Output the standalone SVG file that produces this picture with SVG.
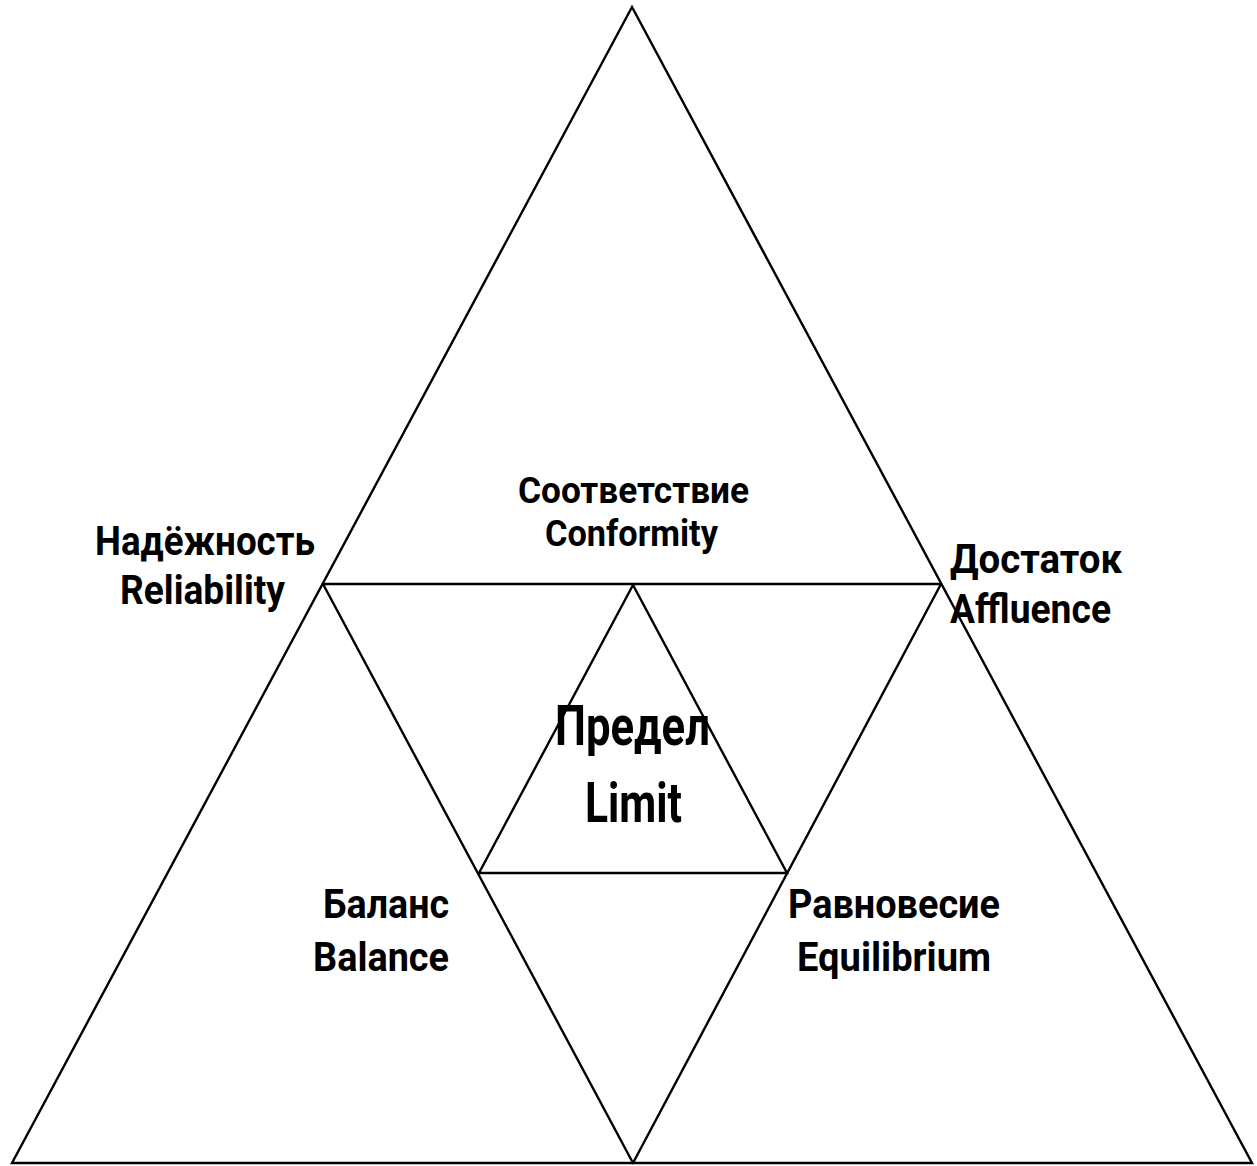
<svg xmlns="http://www.w3.org/2000/svg" width="1257" height="1166" viewBox="0 0 1257 1166">
<style>
.ln{stroke:#000;stroke-width:2.4;fill:none;stroke-linecap:round;stroke-linejoin:miter}
.t{font-family:Roboto,"Liberation Sans",sans-serif;font-weight:bold;font-size:40px;fill:#000;text-anchor:start}
.sm{font-size:36px}
.big{font-size:56px}
</style>
<rect width="1257" height="1166" fill="#fff"/>
<g id="connectors">
<polygon class="ln" points="632,7 12,1163 1252,1163"/>
<line class="ln" x1="323" y1="584" x2="941" y2="584"/>
<line class="ln" x1="323" y1="584" x2="633" y2="1163"/>
<line class="ln" x1="941" y1="584" x2="633" y2="1163"/>
<polygon class="ln" points="633,585 479,873 787,873"/>
</g>
<g id="node-reliability">
<text class="t" x="95" y="555" textLength="220" lengthAdjust="spacingAndGlyphs">Надёжность</text>
<text class="t" x="120" y="604" textLength="165" lengthAdjust="spacingAndGlyphs">Reliability</text>
</g>
<g id="node-conformity">
<text class="t sm" x="518" y="503" textLength="231" lengthAdjust="spacingAndGlyphs">Соответствие</text>
<text class="t sm" x="545" y="546" textLength="173" lengthAdjust="spacingAndGlyphs">Conformity</text>
</g>
<g id="node-affluence">
<text class="t" x="950" y="573" textLength="172" lengthAdjust="spacingAndGlyphs">Достаток</text>
<text class="t" x="950" y="623" textLength="161" lengthAdjust="spacingAndGlyphs">Affluence</text>
</g>
<g id="node-limit">
<text class="t big" x="555" y="745" textLength="155" lengthAdjust="spacingAndGlyphs">Предел</text>
<text class="t big" x="585" y="822" textLength="97" lengthAdjust="spacingAndGlyphs">Limit</text>
</g>
<g id="node-balance">
<text class="t" x="323" y="918" textLength="126" lengthAdjust="spacingAndGlyphs">Баланс</text>
<text class="t" x="313" y="971" textLength="136" lengthAdjust="spacingAndGlyphs">Balance</text>
</g>
<g id="node-equilibrium">
<text class="t" x="788" y="918" textLength="212" lengthAdjust="spacingAndGlyphs">Равновесие</text>
<text class="t" x="797" y="971" textLength="194" lengthAdjust="spacingAndGlyphs">Equilibrium</text>
</g>
</svg>
